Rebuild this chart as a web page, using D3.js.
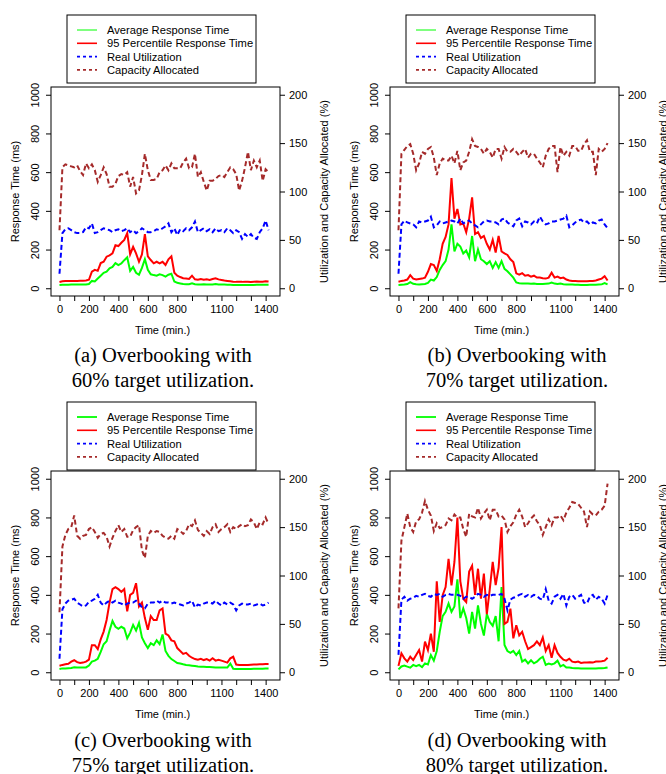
<!DOCTYPE html>
<html>
<head>
<meta charset="utf-8">
<script src="https://cdn.jsdelivr.net/npm/d3@7"></script>
<style>
body { margin: 0; background: #fff; }
svg text { font-family: "Liberation Sans", Arial, sans-serif; fill: #000; }
svg text.caption { font-family: "Liberation Serif", "Times New Roman", serif; }
</style>
</head>
<body>
<div id="chart"></div>
<script>
// sample times (min.)
var times = [0,20,40,60,80,100,120,140,160,180,200,220,240,260,280,300,320,340,360,380,
             400,420,440,460,480,500,520,540,560,580,600,620,640,660,680,700,720,740,760,780,
             800,820,840,860,880,900,920,940,960,980,1000,1020,1040,1060,1080,1100,1120,1140,1160,1180,
             1200,1220,1240,1260,1280,1300,1320,1340,1360,1380,1400,1420];

// (a) 60% target
var avgA = [17,18,18,18,19,19,19,20,20,20, 22,38,35,50,65,80,86,103,110,130,
            120,128,145,160,90,110,80,70,105,150, 95,72,68,65,72,68,60,70,75,35,
            28,25,22,21,21,26,21,20,20,21, 20,20,20,22,20,19,19,18,18,17,
            17,17,17,17,17,17,17,18,18,18, 18,18];
var p95A = [32,36,37,37,38,38,38,39,39,40, 44,86,95,90,130,137,163,170,180,222,
            218,235,250,285,175,214,180,137,175,280, 165,146,129,137,129,137,120,150,165,80,
            65,58,52,50,48,65,46,44,48,44, 46,43,48,52,46,43,40,38,36,34,
            33,33,33,34,34,33,34,35,34,34, 36,35];
var utilA = [15,57,61,62,60,58,57,57,58,63, 62,67,57,58,60,62,61,60,58,60,
             61,59,60,62,58,60,57,59,62,60, 58,58,59,61,60,62,64,67,58,62,
             55,61,59,62,60,63,69,58,60,62, 59,61,58,62,59,60,58,62,60,57,
             60,58,51,56,53,56,52,51,58,62, 70,60];
var capA = [60,125,128,127,126,125,127,121,117,129, 124,128,122,110,117,125,118,105,105,108,
            116,118,117,120,105,115,98,101,117,139, 122,112,112,113,120,122,127,122,129,124,
            124,124,130,134,124,125,139,115,120,110, 101,111,111,113,116,117,115,120,125,123,
            118,101,111,125,141,122,132,125,132,111, 123,120];

// (b) 70% target
var avgB = [17,18,19,22,32,23,21,20,21,22, 28,45,40,58,95,120,140,200,330,190,
            230,215,180,195,160,270,140,200,150,140, 125,140,105,135,105,140,100,88,72,55,
            30,26,25,24,25,23,24,22,22,22, 23,24,30,24,22,24,21,20,19,19,
            18,18,17,17,17,18,18,18,19,20, 27,20];
var p95B = [34,38,40,45,68,50,45,48,50,55, 85,125,120,90,150,230,265,330,570,360,
            410,330,335,290,360,470,280,290,260,270, 230,200,250,185,270,190,180,172,150,135,
            77,70,78,65,68,60,65,55,55,52, 50,55,80,55,60,52,55,45,40,38,
            37,36,36,36,36,37,38,40,45,50, 62,40];
var utilB = [15,66,70,68,67,66,63,69,68,69, 70,74,63,65,69,67,68,69,70,69,
             67,72,67,69,70,67,65,63,66,69, 70,69,69,68,66,71,72,68,66,64,
             70,72,64,69,68,66,69,67,74,69, 66,67,69,69,70,71,72,75,63,65,
             68,70,71,68,69,66,68,67,70,71, 66,62];
var capB = [60,139,143,147,149,139,122,129,141,139, 144,146,135,117,129,134,132,132,137,129,
            142,122,130,132,141,154,147,146,144,139, 144,141,135,144,144,134,146,141,141,144,
            141,137,141,144,135,139,139,134,130,125, 137,144,147,147,120,146,137,141,137,147,
            147,142,142,149,153,141,141,117,144,141, 144,150];

// (c) 75% target
var avgC = [17,20,20,21,22,26,24,24,24,25, 35,55,60,70,105,145,160,215,265,235,
            225,235,226,175,205,245,215,255,180,150, 125,150,140,165,145,195,110,85,68,58,
            48,45,41,38,36,34,32,30,29,28, 27,27,26,25,25,24,24,24,45,18,
            17,17,17,17,17,17,18,18,18,18, 19,19];
var p95C = [34,38,41,44,55,62,52,48,50,55, 65,140,140,120,170,210,270,360,430,440,
            430,415,430,315,400,410,460,340,360,280, 220,290,270,270,320,330,200,190,165,160,
            125,110,95,100,85,75,68,65,69,63, 68,60,72,60,65,60,55,50,72,80,
            40,38,38,38,38,39,40,40,41,42, 43,43];
var utilC = [14,65,71,74,75,76,72,70,68,69, 73,74,76,80,72,69,72,74,72,74,
             72,71,69,71,72,72,74,71,67,66, 71,72,72,74,72,74,72,72,71,72,
             71,70,69,71,72,74,67,70,69,71, 72,72,71,74,71,69,72,70,72,70,
             64,69,71,70,70,71,69,70,71,69, 70,72];
var capC = [62,130,142,148,150,162,141,138,141,142, 148,150,145,139,143,144,140,130,139,146,
            152,145,148,140,140,147,150,152,126,118, 141,146,144,146,145,141,139,138,141,138,
            148,146,143,146,153,151,157,147,144,141, 146,143,150,153,145,148,150,153,145,150,
            148,151,153,151,152,158,155,148,155,153, 160,153];

// (d) 80% target
var avgD = [15,30,35,29,24,38,31,38,27,46, 40,89,60,110,209,290,312,355,312,340,
            480,280,330,280,200,312,226,346,250,190, 300,260,240,290,160,440,141,110,100,110,
            89,110,55,65,46,62,46,55,70,80, 38,45,40,46,60,30,38,25,24,22,
            21,21,20,20,20,20,20,20,21,21, 22,25];
var p95D = [33,98,72,55,80,63,89,115,55,158, 115,200,106,470,260,398,440,586,449,570,
            800,470,380,363,520,550,400,535,380,510, 300,430,570,450,540,750,250,260,329,175,
            243,190,209,160,120,130,140,160,140,180, 110,140,75,140,100,80,65,60,70,55,
            52,55,48,50,50,52,50,55,55,57, 60,75];
var utilD = [18,75,78,74,76,77,79,78,80,81, 79,78,81,80,81,78,80,81,80,80,
             80,79,76,78,78,76,78,81,80,78, 80,79,80,80,80,81,76,64,75,77,
             78,80,81,78,80,78,80,79,76,75, 86,74,71,78,80,76,81,69,78,80,
             76,78,80,72,71,78,80,75,78,76, 71,80];
var capD = [66,136,150,164,150,145,156,158,165,177, 168,162,146,154,149,150,152,159,157,163,
            160,160,148,140,164,161,160,170,159,164, 168,157,168,168,161,162,158,145,151,155,
            163,168,161,150,154,159,162,156,152,142, 150,158,152,160,160,162,157,165,170,176,
            175,174,170,166,150,166,163,162,166,168, 172,195];

// axis ticks and labels
var xTicks = [0,100,200,300,400,500,600,700,800,900,1000,1100,1200,1300,1400];
var xLabels = [0,200,400,600,800,1100,1400];
var leftTicks = [0,200,400,600,800,1000];
var rightTicks = [0,50,100,150,200];
var legendLabels = ["Average Response Time", "95 Percentile Response Time",
                    "Real Utilization", "Capacity Allocated"];
var captions = [["(a) Overbooking with", "60% target utilization."],
                ["(b) Overbooking with", "70% target utilization."],
                ["(c) Overbooking with", "75% target utilization."],
                ["(d) Overbooking with", "80% target utilization."]];

const width = 666, height = 774;
const plotW = 229, plotH = 209;

const svg = d3.select("#chart")
              .append("svg")
              .attr("width", width)
              .attr("height", height);

// one panel = legend + plot + caption
function drawPanel(p) {
    var g = svg.append("g");

    // R-style 4% padding around the data ranges
    var xScale = d3.scaleLinear()
                   .domain([0 - 0.04 * 1440, 1440 + 0.04 * 1440])
                   .range([p.left, p.left + plotW]);
    var yLeft = d3.scaleLinear()
                  .domain([-40, 1040])
                  .range([p.top + plotH, p.top]);
    var yRight = d3.scaleLinear()
                   .domain([-8, 208])
                   .range([p.top + plotH, p.top]);

    // series
    var series = [
        {values: p.avg, scale: yLeft, color: "#00ff00", dash: null},
        {values: p.p95, scale: yLeft, color: "#ff0000", dash: null},
        {values: p.util, scale: yRight, color: "#0000ff", dash: "5,3"},
        {values: p.cap, scale: yRight, color: "#a52a2a", dash: "5,3"}
    ];
    series.forEach(function(s) {
        var line = d3.line()
                     .x(function(d, i) { return xScale(times[i]); })
                     .y(function(d) { return s.scale(d); });
        g.append("path")
         .datum(s.values)
         .attr("d", line)
         .attr("fill", "none")
         .attr("stroke", s.color)
         .attr("stroke-width", 2)
         .attr("stroke-dasharray", s.dash);
    });

    // box
    g.append("rect")
     .attr("x", p.left)
     .attr("y", p.top)
     .attr("width", plotW)
     .attr("height", plotH)
     .attr("fill", "none")
     .attr("stroke", "#000")
     .attr("stroke-width", 1);

    // x axis
    var xAxis = g.append("g")
                 .attr("transform", "translate(0," + (p.top + plotH) + ")")
                 .call(d3.axisBottom(xScale)
                         .tickValues(xTicks)
                         .tickSize(5)
                         .tickPadding(4)
                         .tickFormat(function(d) { return xLabels.indexOf(d) >= 0 ? d : ""; }));
    xAxis.select(".domain").remove();
    xAxis.selectAll("text").attr("font-size", 11);

    g.append("text")
     .attr("x", xScale(700))
     .attr("y", p.top + plotH + 38)
     .attr("text-anchor", "middle")
     .attr("font-size", 11)
     .text("Time (min.)");

    // left axis, labels turned like R
    var yAxisL = g.append("g")
                  .attr("transform", "translate(" + p.left + ",0)")
                  .call(d3.axisLeft(yLeft).tickValues(leftTicks).tickSize(5).tickFormat(d3.format("d")));
    yAxisL.select(".domain").remove();
    yAxisL.selectAll("text")
          .attr("x", null)
          .attr("dy", null)
          .attr("font-size", 11)
          .attr("text-anchor", "middle")
          .attr("transform", "translate(-12,0) rotate(-90)");

    g.append("text")
     .attr("transform", "translate(" + (p.left - 32) + "," + (p.top + plotH / 2) + ") rotate(-90)")
     .attr("text-anchor", "middle")
     .attr("font-size", 11)
     .text("Response Time (ms)");

    // right axis
    var yAxisR = g.append("g")
                  .attr("transform", "translate(" + (p.left + plotW) + ",0)")
                  .call(d3.axisRight(yRight).tickValues(rightTicks).tickSize(5).tickPadding(4));
    yAxisR.select(".domain").remove();
    yAxisR.selectAll("text").attr("font-size", 11);

    g.append("text")
     .attr("transform", "translate(" + (p.left + plotW + 48) + "," + (p.top + plotH / 2) + ") rotate(-90)")
     .attr("text-anchor", "middle")
     .attr("font-size", 11)
     .text("Utilization and Capacity Allocated (%)");

    // legend
    var lx = p.left + 16, ly = p.legendTop;
    g.append("rect")
     .attr("x", lx)
     .attr("y", ly)
     .attr("width", 189)
     .attr("height", 68)
     .attr("fill", "#fff")
     .attr("stroke", "#000");
    series.forEach(function(s, i) {
        var yy = ly + 15 + i * 13.3;
        g.append("line")
         .attr("x1", lx + 10)
         .attr("x2", lx + 30)
         .attr("y1", yy)
         .attr("y2", yy)
         .attr("stroke", s.color)
         .attr("stroke-width", i == 0 ? p.legendGreen : 1.6)
         .attr("stroke-dasharray", s.dash ? "3,3" : null);
        g.append("text")
         .attr("x", lx + 40)
         .attr("y", yy + 4)
         .attr("font-size", 11.2)
         .text(legendLabels[i]);
    });

    // caption
    p.caption.forEach(function(c, i) {
        g.append("text")
         .attr("class", "caption")
         .attr("x", p.captionX)
         .attr("y", p.captionY + i * 25)
         .attr("text-anchor", "middle")
         .attr("font-size", 20.5)
         .text(c);
    });
}

drawPanel({left: 51, top: 87, legendTop: 15, captionX: 163, captionY: 362, legendGreen: 1,
           avg: avgA, p95: p95A, util: utilA, cap: capA, caption: captions[0]});
drawPanel({left: 390, top: 87, legendTop: 15, captionX: 517, captionY: 362, legendGreen: 1,
           avg: avgB, p95: p95B, util: utilB, cap: capB, caption: captions[1]});
drawPanel({left: 51, top: 471, legendTop: 402, captionX: 163, captionY: 747, legendGreen: 1.8,
           avg: avgC, p95: p95C, util: utilC, cap: capC, caption: captions[2]});
drawPanel({left: 390, top: 471, legendTop: 402, captionX: 517, captionY: 747, legendGreen: 1.8,
           avg: avgD, p95: p95D, util: utilD, cap: capD, caption: captions[3]});
</script>
</body>
</html>
